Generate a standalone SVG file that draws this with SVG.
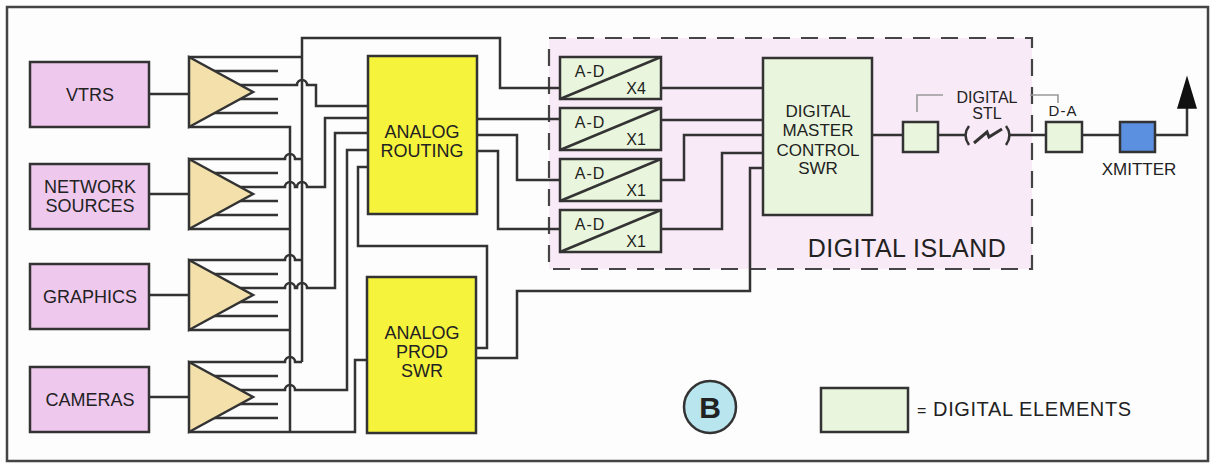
<svg xmlns="http://www.w3.org/2000/svg" width="1211" height="464" viewBox="0 0 1211 464">
<defs>
<style>
.t{font-family:"Liberation Sans",Arial,sans-serif;fill:#222;text-anchor:middle}
.src{fill:#efc8ee;stroke:#333;stroke-width:2.5}
.amp{fill:#f3e0aa;stroke:#333;stroke-width:2.5;stroke-linejoin:miter}
.yel{fill:#f6f33c;stroke:#333;stroke-width:2.5}
.dig{fill:#e9f6dd;stroke:#333;stroke-width:2.5}
.w{fill:none;stroke:#333;stroke-width:2.5}
.g{fill:none;stroke:#999;stroke-width:1.6}
</style>
</defs>
<rect x="0" y="0" width="1211" height="464" fill="#fdfdfd"/>
<rect x="7" y="7" width="1201" height="454" fill="none" stroke="#444" stroke-width="2.5"/>
<g id="digital-island">
<rect x="549" y="38" width="483" height="231" fill="#f8eaf7" stroke="#444" stroke-width="2.2" stroke-dasharray="17 11"/>
<text class="t" x="907" y="257" font-size="25" letter-spacing="0.5">DIGITAL ISLAND</text>
</g>
<g id="connectors" class="w">
<path d="M149,94 H189 M149,194 H189 M149,295 H189 M149,397 H189"/>
<path d="M189,57 H302 M200,71 H278 M200,85 H297 a5,5 0 0 1 10,0 H316 V106 H368 M200,99 H278 M200,113 H278 M189,127 H290 V432"/>
<path d="M189,159 H285 a5,5 0 0 1 10,0 H302 M200,173 H278 M200,187 H285 a5,5 0 0 1 10,0 H297 a5,5 0 0 1 10,0 H325 V118 H368 M200,201 H278 M200,215 H278 M189,229 H290"/>
<path d="M189,260 H285 a5,5 0 0 1 10,0 H302 M200,274 H278 M200,288 H285 a5,5 0 0 1 10,0 H297 a5,5 0 0 1 10,0 H335 V133 H368 M200,302 H278 M200,316 H278 M189,330 H290"/>
<path d="M189,362 H285 a5,5 0 0 1 10,0 H302 M200,376 H278 M200,390 H285 a5,5 0 0 1 10,0 H347 V150 H368 M200,404 H278 M200,418 H278 M189,432 H355 V360 H367"/>
<path d="M302,362 V38 H500 V88 H560"/>
<path d="M476,348 H487 V246 H358 V167 H368"/>
<path d="M476,358 H517 V291 H750 V168 H763"/>
<path d="M477,119 H560 M477,135 H517 V180 H560 M477,151 H498 V229 H560"/>
<path d="M661,88 H763 M661,120 H763 M661,180 H684 V135 H763 M661,229 H722 V153 H763"/>
<path d="M872,135 H903 M938,135 H966 M1009,135 H1046 M1082,135 H1120 M1155,135 H1187 V106"/>
<path d="M969,126 Q962,135 969,145 M1006,126 Q1013,135 1006,145"/>
<path d="M974,143 L987,132 L989,137 L1002,129" stroke-width="3"/>
<path class="g" d="M917,112 V95 H943 M1030,95 H1058 V103"/>
<path d="M1178,108 H1196 L1187,78 Z" fill="#111" stroke="#111" stroke-width="1.5"/>
</g>
<g id="vtrs"><rect class="src" x="30" y="62" width="119" height="65"/><text class="t" x="90" y="101" font-size="18">VTRS</text></g>
<g id="network-sources"><rect class="src" x="30" y="164" width="119" height="65"/><text class="t" x="90" y="193" font-size="18">NETWORK</text><text class="t" x="90" y="212" font-size="18">SOURCES</text></g>
<g id="graphics"><rect class="src" x="30" y="264" width="119" height="65"/><text class="t" x="90" y="303" font-size="18">GRAPHICS</text></g>
<g id="cameras"><rect class="src" x="30" y="367" width="119" height="65"/><text class="t" x="90" y="406" font-size="18">CAMERAS</text></g>
<g id="amp-vtrs"><path class="amp" d="M189,57 L253,92 L189,127 Z"/></g>
<g id="amp-network"><path class="amp" d="M189,159 L253,194 L189,229 Z"/></g>
<g id="amp-graphics"><path class="amp" d="M189,260 L253,295 L189,330 Z"/></g>
<g id="amp-cameras"><path class="amp" d="M189,362 L253,397 L189,432 Z"/></g>
<g id="analog-routing"><rect class="yel" x="368" y="56" width="109" height="158"/><text class="t" x="422" y="138" font-size="18">ANALOG</text><text class="t" x="422" y="157" font-size="18">ROUTING</text></g>
<g id="analog-prod-swr"><rect class="yel" x="367" y="277" width="109" height="156"/><text class="t" x="422" y="339" font-size="18">ANALOG</text><text class="t" x="422" y="358" font-size="18">PROD</text><text class="t" x="422" y="377" font-size="18">SWR</text></g>
<g id="ad-1"><rect class="dig" x="560" y="57" width="101" height="42"/><path class="w" d="M560,99 L661,57"/><text class="t" x="590" y="77" font-size="16" letter-spacing="1">A-D</text><text class="t" x="636" y="94" font-size="16">X4</text></g>
<g id="ad-2"><rect class="dig" x="560" y="108" width="101" height="42"/><path class="w" d="M560,150 L661,108"/><text class="t" x="590" y="128" font-size="16" letter-spacing="1">A-D</text><text class="t" x="636" y="145" font-size="16">X1</text></g>
<g id="ad-3"><rect class="dig" x="560" y="159" width="101" height="42"/><path class="w" d="M560,201 L661,159"/><text class="t" x="590" y="179" font-size="16" letter-spacing="1">A-D</text><text class="t" x="636" y="196" font-size="16">X1</text></g>
<g id="ad-4"><rect class="dig" x="560" y="210" width="101" height="42"/><path class="w" d="M560,252 L661,210"/><text class="t" x="590" y="230" font-size="16" letter-spacing="1">A-D</text><text class="t" x="636" y="247" font-size="16">X1</text></g>
<g id="digital-master-control"><rect class="dig" x="763" y="58" width="109" height="157"/><text class="t" x="818" y="117" font-size="17">DIGITAL</text><text class="t" x="818" y="136" font-size="17">MASTER</text><text class="t" x="818" y="156" font-size="17">CONTROL</text><text class="t" x="818" y="174" font-size="17">SWR</text></g>
<g id="stl-tx"><rect class="dig" x="903" y="122" width="35" height="30"/></g>
<g id="digital-stl"><text class="t" x="987" y="103" font-size="16">DIGITAL</text><text class="t" x="987" y="119" font-size="16">STL</text></g>
<g id="d-a"><rect class="dig" x="1046" y="122" width="36" height="30"/><text class="t" x="1063" y="116" font-size="15" letter-spacing="1">D-A</text></g>
<g id="xmitter"><rect x="1120" y="122" width="35" height="30" fill="#5b8fe0" stroke="#333" stroke-width="2.5"/><text class="t" x="1139" y="175" font-size="17">XMITTER</text></g>
<g id="label-b"><circle cx="710" cy="407" r="26" fill="#b8e5ee" stroke="#333" stroke-width="2.5"/><text class="t" x="710" y="418" font-size="30" font-weight="bold">B</text></g>
<g id="legend"><rect class="dig" x="821" y="388" width="87" height="44"/><text class="t" x="917" y="416" font-size="20" letter-spacing="0.6" style="text-anchor:start"><tspan font-size="16">=</tspan> DIGITAL ELEMENTS</text></g>
</svg>
